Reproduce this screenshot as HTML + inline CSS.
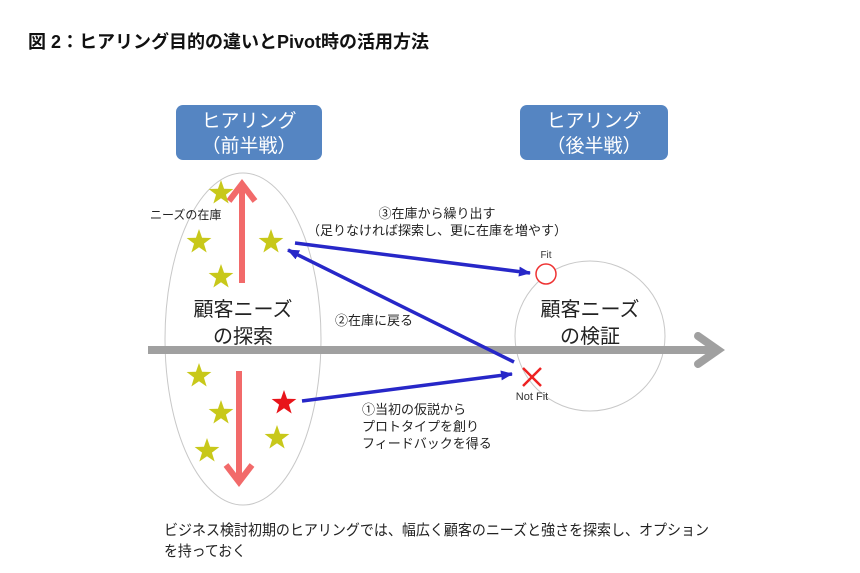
<!DOCTYPE html>
<html><head><meta charset="utf-8"><style>
body{margin:0;background:#fff;}
svg{display:block;font-family:"Liberation Sans","Noto Sans CJK JP",sans-serif;}
</style></head><body>
<svg width="860" height="573" viewBox="0 0 860 573" xmlns="http://www.w3.org/2000/svg">
<defs>
<marker id="bh" markerWidth="12" markerHeight="10" refX="11" refY="5" orient="auto" markerUnits="userSpaceOnUse"><path d="M0,0 L12,5 L0,10 z" fill="#2727c8"/></marker>
<symbol id="st" viewBox="-10 -10 20 20"><polygon points="0,-10 2.35,-3.24 9.51,-3.09 3.8,1.24 5.88,8.09 0,4 -5.88,8.09 -3.8,1.24 -9.51,-3.09 -2.35,-3.24" /></symbol>
</defs>
<text x="28" y="48" font-size="18" font-weight="bold" fill="#111">図 2：ヒアリング目的の違いとPivot時の活用方法</text>
<rect x="176" y="105" width="146" height="55" rx="7" fill="#5585c2"/>
<text x="249" y="127" font-size="19" fill="#fff" text-anchor="middle">ヒアリング</text>
<text x="249" y="152" font-size="19" fill="#fff" text-anchor="middle">（前半戦）</text>
<rect x="520" y="105" width="148" height="55" rx="7" fill="#5585c2"/>
<text x="594" y="127" font-size="19" fill="#fff" text-anchor="middle">ヒアリング</text>
<text x="594" y="152" font-size="19" fill="#fff" text-anchor="middle">（後半戦）</text>
<ellipse cx="243" cy="339" rx="78" ry="166" fill="none" stroke="#c8c8c8" stroke-width="1"/>
<circle cx="590" cy="336" r="75" fill="none" stroke="#c8c8c8" stroke-width="1"/>
<line x1="148" y1="350" x2="714" y2="350" stroke="#a0a0a0" stroke-width="8"/>
<polyline points="698,336 718,350 698,364" fill="none" stroke="#a0a0a0" stroke-width="8" stroke-linecap="round"/>
<line x1="242" y1="283" x2="242" y2="188" stroke="#f26a6a" stroke-width="6"/>
<polyline points="229,201 242,184 255,201" fill="none" stroke="#f26a6a" stroke-width="6"/>
<line x1="239" y1="371" x2="239" y2="478" stroke="#f26a6a" stroke-width="6"/>
<polyline points="226,465 239,482 252,465" fill="none" stroke="#f26a6a" stroke-width="6"/>
<g fill="#c8c81a">
<use href="#st" x="208" y="180" width="26" height="26"/>
<use href="#st" x="186" y="229" width="26" height="26"/>
<use href="#st" x="258" y="229" width="26" height="26"/>
<use href="#st" x="208" y="264" width="26" height="26"/>
<use href="#st" x="186" y="363" width="26" height="26"/>
<use href="#st" x="208" y="400" width="26" height="26"/>
<use href="#st" x="264" y="425" width="26" height="26"/>
<use href="#st" x="194" y="438" width="26" height="26"/>
</g>
<use href="#st" x="271" y="390" width="26" height="26" fill="#e8141a"/>
<text x="243" y="316" font-size="20" fill="#222" text-anchor="middle">顧客ニーズ</text>
<text x="243" y="343" font-size="20" fill="#222" text-anchor="middle">の探索</text>
<text x="590" y="316" font-size="20" fill="#222" text-anchor="middle">顧客ニーズ</text>
<text x="590" y="343" font-size="20" fill="#222" text-anchor="middle">の検証</text>
<g stroke="#2727c8" stroke-width="3.5" fill="none">
<line x1="295" y1="243" x2="530" y2="273" marker-end="url(#bh)"/>
<line x1="514" y1="362" x2="288" y2="250" marker-end="url(#bh)"/>
<line x1="302" y1="401" x2="512" y2="374" marker-end="url(#bh)"/>
</g>
<circle cx="546" cy="274" r="10" fill="#fff" stroke="#e33" stroke-width="1.5"/>
<text x="546" y="258" font-size="10" fill="#333" text-anchor="middle">Fit</text>
<g stroke="#e22" stroke-width="2.5"><line x1="523" y1="368" x2="541" y2="386"/><line x1="541" y1="368" x2="523" y2="386"/></g>
<text x="532" y="400" font-size="11" fill="#333" text-anchor="middle">Not Fit</text>
<text x="150" y="219" font-size="12" fill="#222">ニーズの在庫</text>
<text x="437" y="218" font-size="13" fill="#222" text-anchor="middle">③在庫から繰り出す</text>
<text x="437" y="235" font-size="13" fill="#222" text-anchor="middle">（足りなければ探索し、更に在庫を増やす）</text>
<text x="335" y="325" font-size="13" fill="#222">②在庫に戻る</text>
<text x="362" y="414" font-size="13" fill="#222">①当初の仮説から</text>
<text x="362" y="431" font-size="13" fill="#222">プロトタイプを創り</text>
<text x="362" y="448" font-size="13" fill="#222">フィードバックを得る</text>
<text x="164" y="535" font-size="15" fill="#222" textLength="545" lengthAdjust="spacingAndGlyphs">ビジネス検討初期のヒアリングでは、幅広く顧客のニーズと強さを探索し、オプション</text>
<text x="164" y="556" font-size="15" fill="#222" textLength="82" lengthAdjust="spacingAndGlyphs">を持っておく</text>
</svg>
</body></html>
